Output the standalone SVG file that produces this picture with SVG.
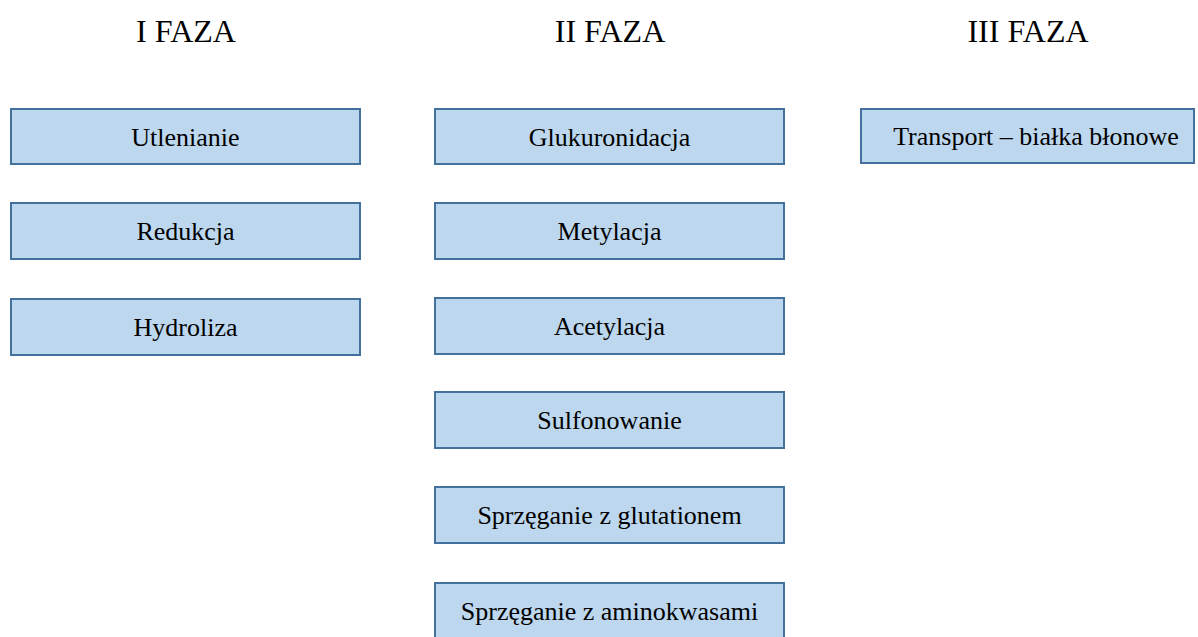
<svg xmlns="http://www.w3.org/2000/svg" width="1198" height="637" viewBox="0 0 1198 637">
<style>
.box{fill:#BDD7EE;stroke:#41719C;stroke-width:2}
.t{font-family:"Liberation Serif","Times New Roman",serif;font-size:26px;fill:#000;text-anchor:middle}
.h{font-family:"Liberation Serif","Times New Roman",serif;font-size:32px;fill:#000;text-anchor:middle}
</style>
<rect width="1198" height="637" fill="#fff"/>
<g id="headers">
<text class="h" x="186" y="42">I FAZA</text>
<text class="h" x="610" y="42">II FAZA</text>
<text class="h" x="1028" y="42">III FAZA</text>
</g>
<g id="n-utlenianie"><rect class="box" x="11" y="109" width="349" height="55"/><text class="t" x="185.5" y="145.5">Utlenianie</text></g>
<g id="n-redukcja"><rect class="box" x="11" y="203" width="349" height="56"/><text class="t" x="185.5" y="239.5">Redukcja</text></g>
<g id="n-hydroliza"><rect class="box" x="11" y="299" width="349" height="56"/><text class="t" x="185.5" y="335.5">Hydroliza</text></g>
<g id="n-glukuronidacja"><rect class="box" x="435" y="109" width="349" height="55"/><text class="t" x="609.5" y="145.5">Glukuronidacja</text></g>
<g id="n-metylacja"><rect class="box" x="435" y="203" width="349" height="56"/><text class="t" x="609.5" y="239.5">Metylacja</text></g>
<g id="n-acetylacja"><rect class="box" x="435" y="298" width="349" height="56"/><text class="t" x="609.5" y="334.5">Acetylacja</text></g>
<g id="n-sulfonowanie"><rect class="box" x="435" y="392" width="349" height="56"/><text class="t" x="609.5" y="428.5">Sulfonowanie</text></g>
<g id="n-glutation"><rect class="box" x="435" y="487" width="349" height="56"/><text class="t" x="609.5" y="523.5">Sprzęganie z glutationem</text></g>
<g id="n-aminokwasy"><rect class="box" x="435" y="583" width="349" height="57"/><text class="t" x="609.5" y="619.5">Sprzęganie z aminokwasami</text></g>
<g id="n-transport"><rect class="box" x="861" y="109" width="333" height="54"/><text class="t" x="1036" y="145">Transport – białka błonowe</text></g>
<g id="connectors"></g>
</svg>
